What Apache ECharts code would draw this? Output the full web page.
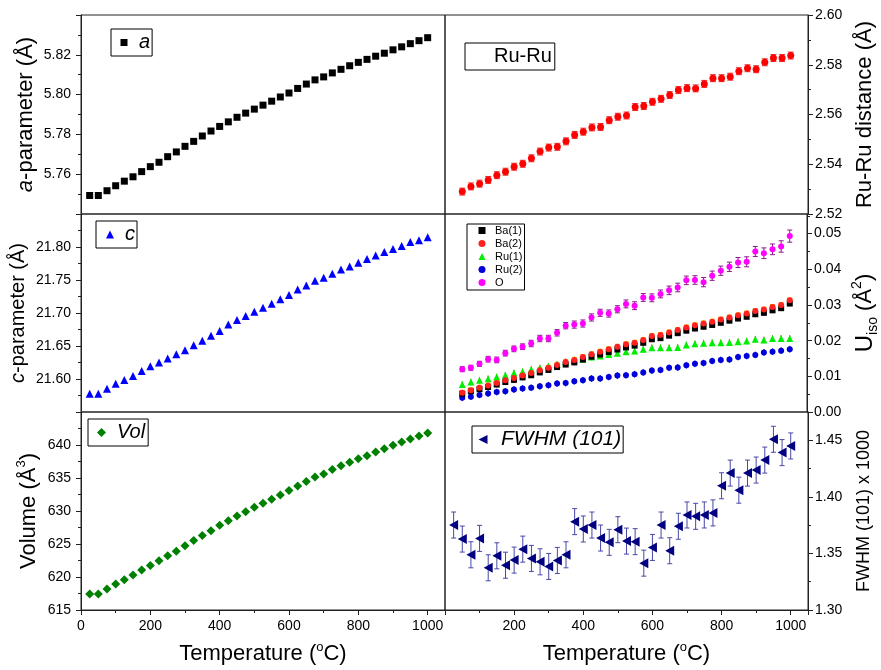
<!DOCTYPE html>
<html>
<head>
<meta charset="utf-8">
<script src="https://cdn.jsdelivr.net/npm/echarts@6/dist/echarts.min.js"></script>
<style>html,body{margin:0;padding:0;background:#fff}#chart{width:881px;height:670px}</style>
</head>
<body>
<div id="chart"></div>
<script>
// ---------- DATA ----------
const tempsLeft = [25,50,75,100,125,150,175,200,225,250,275,300,325,350,375,400,425,450,475,500,525,550,575,600,625,650,675,700,725,750,775,800,825,850,875,900,925,950,975,1000];
const tempsRight = [50,75,100,125,150,175,200,225,250,275,300,325,350,375,400,425,450,475,500,525,550,575,600,625,650,675,700,725,750,775,800,825,850,875,900,925,950,975,1000];

const aParam = [5.7493,5.7493,5.7517,5.7542,5.7565,5.7587,5.7613,5.7638,5.7660,5.7688,5.7712,5.7740,5.7765,5.7792,5.7817,5.7840,5.7863,5.7886,5.7907,5.7927,5.7947,5.7967,5.7988,5.8008,5.8031,5.8053,5.8074,5.8089,5.8109,5.8127,5.8145,5.8162,5.8177,5.8193,5.8208,5.8225,5.8240,5.8256,5.8271,5.8286];
const cParam = [21.5777,21.5777,21.5853,21.5929,21.5985,21.6046,21.6122,21.6193,21.6249,21.6310,21.6376,21.6437,21.6513,21.6579,21.6655,21.6726,21.6827,21.6893,21.6954,21.7020,21.7081,21.7142,21.7208,21.7274,21.7355,21.7416,21.7487,21.7533,21.7594,21.7660,21.7706,21.7761,21.7817,21.7873,21.7924,21.7970,21.8015,21.8076,21.8102,21.8147];
const volume = [617.42,617.42,618.18,618.93,619.59,620.29,621.05,621.75,622.46,623.22,623.92,624.73,625.53,626.29,627.00,627.85,628.51,629.26,629.87,630.57,631.18,631.78,632.44,633.09,633.80,634.46,635.16,635.61,636.27,636.87,637.38,637.93,638.39,638.94,639.45,639.95,640.45,640.91,641.36,641.81];

const ruRu = [2.5290,2.5311,2.5322,2.5337,2.5356,2.5370,2.5390,2.5402,2.5424,2.5451,2.5467,2.5470,2.5492,2.5518,2.5531,2.5548,2.5550,2.5577,2.5591,2.5596,2.5630,2.5634,2.5651,2.5663,2.5678,2.5698,2.5706,2.5705,2.5723,2.5746,2.5746,2.5752,2.5774,2.5786,2.5782,2.5810,2.5827,2.5827,2.5837];
const ruRuErr = [0.0014,0.0014,0.0014,0.0014,0.0014,0.0014,0.0014,0.0014,0.0014,0.0014,0.0014,0.0014,0.0014,0.0014,0.0014,0.0014,0.0014,0.0014,0.0014,0.0014,0.0014,0.0014,0.0014,0.0014,0.0014,0.0014,0.0014,0.0014,0.0014,0.0014,0.0014,0.0014,0.0014,0.0014,0.0014,0.0014,0.0014,0.0014,0.0014];

const uBa1 = [0.0051,0.0058,0.0064,0.0070,0.0077,0.0084,0.0090,0.0097,0.0103,0.0111,0.0118,0.0126,0.0133,0.0139,0.0147,0.0155,0.0161,0.0168,0.0175,0.0181,0.0186,0.0194,0.0204,0.0207,0.0214,0.0221,0.0228,0.0234,0.0239,0.0244,0.0250,0.0256,0.0262,0.0267,0.0274,0.0278,0.0285,0.0291,0.0304];
const uBa2 = [0.0054,0.0061,0.0068,0.0074,0.0081,0.0089,0.0095,0.0102,0.0109,0.0117,0.0124,0.0132,0.0140,0.0146,0.0154,0.0162,0.0169,0.0176,0.0183,0.0190,0.0194,0.0202,0.0213,0.0216,0.0223,0.0230,0.0237,0.0243,0.0248,0.0253,0.0259,0.0265,0.0271,0.0276,0.0283,0.0287,0.0294,0.0300,0.0313];
const uRu1 = [0.0077,0.0084,0.0089,0.0093,0.0098,0.0103,0.0109,0.0113,0.0119,0.0123,0.0128,0.0133,0.0141,0.0146,0.0148,0.0154,0.0157,0.0161,0.0165,0.0169,0.0171,0.0176,0.0180,0.0180,0.0180,0.0181,0.0188,0.0191,0.0193,0.0194,0.0194,0.0195,0.0197,0.0199,0.0204,0.0202,0.0206,0.0206,0.0206];
const uRu2 = [0.0040,0.0043,0.0048,0.0052,0.0056,0.0058,0.0063,0.0066,0.0068,0.0072,0.0075,0.0080,0.0081,0.0086,0.0089,0.0094,0.0094,0.0098,0.0102,0.0103,0.0106,0.0111,0.0116,0.0118,0.0124,0.0125,0.0131,0.0135,0.0137,0.0143,0.0146,0.0147,0.0154,0.0157,0.0160,0.0167,0.0169,0.0172,0.0176];
const uO = [0.0120,0.0124,0.0135,0.0148,0.0146,0.0165,0.0177,0.0183,0.0192,0.0206,0.0206,0.0222,0.0242,0.0245,0.0248,0.0265,0.0278,0.0276,0.0288,0.0303,0.0298,0.0321,0.0320,0.0331,0.0341,0.0349,0.0369,0.0370,0.0364,0.0382,0.0396,0.0407,0.0419,0.0421,0.0450,0.0445,0.0456,0.0464,0.0493];
const uBaErr = [0.0007,0.0007,0.0007,0.0007,0.0007,0.0007,0.0007,0.0007,0.0007,0.0007,0.0007,0.0007,0.0007,0.0007,0.0007,0.0007,0.0007,0.0007,0.0007,0.0007,0.0007,0.0007,0.0007,0.0007,0.0007,0.0007,0.0007,0.0007,0.0007,0.0007,0.0007,0.0007,0.0007,0.0007,0.0007,0.0007,0.0007,0.0007,0.0007];
const uRuErr = [0.0008,0.0008,0.0008,0.0008,0.0008,0.0008,0.0008,0.0008,0.0008,0.0008,0.0008,0.0008,0.0008,0.0008,0.0008,0.0008,0.0008,0.0008,0.0008,0.0008,0.0008,0.0008,0.0008,0.0008,0.0008,0.0008,0.0008,0.0008,0.0008,0.0008,0.0008,0.0008,0.0008,0.0008,0.0008,0.0008,0.0008,0.0008,0.0008];
const uOErr = [0.0007,0.0007,0.0007,0.0008,0.0008,0.0008,0.0008,0.0008,0.0009,0.0009,0.0009,0.0009,0.0009,0.0010,0.0010,0.0010,0.0010,0.0010,0.0010,0.0011,0.0011,0.0011,0.0011,0.0011,0.0012,0.0012,0.0012,0.0012,0.0013,0.0013,0.0013,0.0013,0.0014,0.0014,0.0014,0.0015,0.0015,0.0016,0.0017];

const fwhm = [1.3751,1.3627,1.3488,1.3633,1.3373,1.3479,1.3396,1.3441,1.3538,1.3456,1.3426,1.3385,1.3438,1.3488,1.3781,1.3716,1.3751,1.3636,1.3598,1.3710,1.3609,1.3604,1.3414,1.3553,1.3751,1.3524,1.3740,1.3840,1.3828,1.3840,1.3858,1.4098,1.4210,1.4059,1.4210,1.4237,1.4325,1.4509,1.4391,1.4450];
const fwhmErr = [0.0115,0.0115,0.0115,0.0115,0.0115,0.0115,0.0115,0.0115,0.0115,0.0115,0.0115,0.0115,0.0115,0.0115,0.0115,0.0115,0.0115,0.0115,0.0115,0.0115,0.0115,0.0115,0.0115,0.0115,0.0115,0.0115,0.0115,0.0115,0.0115,0.0115,0.0115,0.0115,0.0115,0.0115,0.0115,0.0115,0.0115,0.0115,0.0115,0.0115];

const xTicks = [0, 1050, 200];           // min, max, interval
const aTicks = [5.74, 5.84, 0.02];
const cTicks = [21.55, 21.85, 0.05];
const volTicks = [615, 645, 5];
const ruTicks = [2.52, 2.60, 0.02];
const uTicks = [0, 0.0555, 0.01];
const fwhmTicks = [1.30, 1.475, 0.05];

// ---------- CHART ----------
const FONT = 'Arial, "Liberation Sans", sans-serif';
const chart = echarts.init(document.getElementById('chart'), null, {renderer: 'canvas'});

const grids = [
  {left: 81, top: 15, width: 364, height: 199},
  {left: 81, top: 214, width: 364, height: 198},
  {left: 81, top: 412, width: 364, height: 198},
  {left: 445, top: 15, width: 363, height: 199},
  {left: 445, top: 214, width: 363, height: 198},
  {left: 445, top: 412, width: 363, height: 198}
].map(g => Object.assign({show: true, borderColor: '#222', borderWidth: 1, backgroundColor: 'transparent'}, g));

const tempName = 'Temperature ({p|o}C)';
const tempRich = {p: {fontSize: 13, lineHeight: 12, verticalAlign: 'top', fontFamily: FONT, color: '#000'}};

function xAxis(i) {
  const bottom = (i === 2 || i === 5);
  return {
    type: 'value', gridIndex: i, min: xTicks[0], max: xTicks[1], interval: xTicks[2],
    show: bottom,
    axisLine: {show: bottom, onZero: false, lineStyle: {color: '#222', width: 1}},
    axisTick: {show: bottom, inside: false, length: 5, lineStyle: {color: '#222'}},
    minorTick: {show: bottom, splitNumber: 2, length: 3, lineStyle: {color: '#222'}},
    axisLabel: {show: bottom, fontSize: 14, color: '#000', fontFamily: FONT, margin: 9,
      showMinLabel: i !== 5, showMaxLabel: false, formatter: v => String(v)},
    splitLine: {show: false},
    name: bottom ? tempName : '', nameLocation: 'middle', nameGap: 31,
    nameTextStyle: {fontSize: 22, color: '#000', fontFamily: FONT, lineHeight: 26, rich: tempRich}
  };
}

function yAxis(i, t, pos, name, nameGap, rich, fontSize, fmt, showMin, showMax) {
  return {
    type: 'value', gridIndex: i, position: pos, min: t[0], max: t[1], interval: t[2],
    axisLine: {show: true, onZero: false, lineStyle: {color: '#222', width: 1}},
    axisTick: {show: true, inside: false, length: 5, lineStyle: {color: '#222'}},
    minorTick: {show: true, splitNumber: 2, length: 3, lineStyle: {color: '#222'}},
    axisLabel: {fontSize: 14, color: '#000', fontFamily: FONT, margin: pos === 'left' ? 10 : 7,
      showMinLabel: showMin, showMaxLabel: showMax, formatter: fmt},
    splitLine: {show: false},
    name: name, nameLocation: 'middle', nameGap: nameGap, nameRotate: 90,
    nameTextStyle: {fontSize: fontSize, color: '#000', fontFamily: FONT, lineHeight: 28, rich: rich}
  };
}

const f2 = v => v.toFixed(2);
const f0 = v => v.toFixed(0);

const yAxes = [
  yAxis(0, aTicks, 'left', '{i|a}-parameter (Å)', 34,
    {i: {fontStyle: 'italic', fontSize: 22, fontFamily: FONT, color: '#000'}}, 22, f2, false, false),
  yAxis(1, cTicks, 'left', '{i|c}-parameter (Å)', 47,
    {i: {fontStyle: 'italic', fontSize: 20, fontFamily: FONT, color: '#000'}}, 20, f2, false, false),
  yAxis(2, volTicks, 'left', 'Volume (Å{p|3})', 38,
    {p: {fontSize: 13, lineHeight: 13, verticalAlign: 'top', fontFamily: FONT, color: '#000'}}, 22, f0, true, false),
  yAxis(3, ruTicks, 'right', 'Ru-Ru distance (Å)', 43, {}, 22, f2, true, true),
  yAxis(4, uTicks, 'right', '{u|U}{s|iso} (Å{p|2})', 43,
    {u: {fontSize: 24, lineHeight: 30, fontFamily: FONT, color: '#000'},
     s: {fontSize: 14, lineHeight: 14, verticalAlign: 'bottom', fontFamily: FONT, color: '#000'},
     p: {fontSize: 14, lineHeight: 14, verticalAlign: 'top', fontFamily: FONT, color: '#000'}}, 22, f2, true, false),
  yAxis(5, fwhmTicks, 'right', 'FWHM (101) x 1000', 42, {}, 18, f2, true, false)
];

function scatter(name, i, xs, ys, symbol, size, color, extra) {
  return Object.assign({
    type: 'scatter', name: name, xAxisIndex: i, yAxisIndex: i,
    data: xs.map((x, k) => [x, ys[k]]),
    symbol: symbol, symbolSize: size,
    itemStyle: {color: color, opacity: 1}, z: 5, silent: true, animation: false
  }, extra || {});
}

function errBars(i, xs, ys, errs, color, cap) {
  return {
    type: 'custom', xAxisIndex: i, yAxisIndex: i, silent: true, animation: false, z: 3,
    data: xs.map((x, k) => [x, ys[k] - errs[k], ys[k] + errs[k]]),
    encode: {x: 0, y: [1, 2]},
    renderItem: function (params, api) {
      const lo = api.coord([api.value(0), api.value(1)]);
      const hi = api.coord([api.value(0), api.value(2)]);
      const st = {stroke: color, lineWidth: 1};
      return {type: 'group', children: [
        {type: 'line', shape: {x1: lo[0], y1: lo[1], x2: hi[0], y2: hi[1]}, style: st},
        {type: 'line', shape: {x1: lo[0] - cap, y1: lo[1], x2: lo[0] + cap, y2: lo[1]}, style: st},
        {type: 'line', shape: {x1: hi[0] - cap, y1: hi[1], x2: hi[0] + cap, y2: hi[1]}, style: st}
      ]};
    }
  };
}

const leftTri = 'path://M0,5 L10,0 L10,10 Z';

const series = [
  scatter('a', 0, tempsLeft, aParam, 'rect', 7, '#000'),
  scatter('c', 1, tempsLeft, cParam, 'triangle', 8, '#0000ff'),
  scatter('Vol', 2, tempsLeft, volume, 'diamond', 9, '#008000'),
  errBars(3, tempsRight, ruRu, ruRuErr, '#e83030', 3),
  scatter('Ru-Ru', 3, tempsRight, ruRu, 'circle', 7, '#ff0000'),
  errBars(4, tempsRight, uO, uOErr, '#8a1a8a', 2.5),
  errBars(4, tempsRight, uRu2, uRuErr, '#2020c0', 0.5),
  errBars(4, tempsRight, uRu1, uRuErr, '#8a8a20', 0.5),
  errBars(4, tempsRight, uBa1, uBaErr, '#ff40ff', 0.5),
  errBars(4, tempsRight, uBa2, uBaErr, '#ffcc00', 2.5),
  scatter('Ru(2)', 4, tempsRight, uRu2, 'circle', 6, '#0000dd'),
  scatter('Ru(1)', 4, tempsRight, uRu1, 'triangle', 7, '#00ee00'),
  scatter('Ba(1)', 4, tempsRight, uBa1, 'rect', 6, '#000'),
  scatter('Ba(2)', 4, tempsRight, uBa2, 'circle', 6, '#ff2020'),
  scatter('O', 4, tempsRight, uO, 'circle', 6, '#ff00ff'),
  errBars(5, tempsLeft, fwhm, fwhmErr, '#4848a8', 2.5),
  scatter('FWHM (101)', 5, tempsLeft, fwhm, leftTri, [9, 10], '#000080')
];

function legendBox(o) {
  return Object.assign({
    show: true, orient: 'vertical', borderColor: '#000', borderWidth: 1, borderRadius: 0,
    backgroundColor: 'transparent', itemGap: 0, selectedMode: false
  }, o);
}
function lt(size, italic, padLeft, lh) {
  return {fontSize: size, fontStyle: italic ? 'italic' : 'normal', color: '#000', fontFamily: FONT,
    lineHeight: lh || 23, padding: [0, 0, 0, padLeft]};
}

const legends = [
  legendBox({left: 111, top: 29, data: ['a'], itemWidth: 7, itemHeight: 7, padding: [2, 2, 2, 9.5], textStyle: lt(20, true, 6.5)}),
  legendBox({left: 96, top: 221, data: ['c'], itemWidth: 8, itemHeight: 8, padding: [2, 2, 2, 10], textStyle: lt(20, true, 6)}),
  legendBox({left: 88, top: 419, data: ['Vol'], itemWidth: 9, itemHeight: 9, padding: [2, 3, 2, 9], textStyle: lt(20, true, 6)}),
  legendBox({left: 465, top: 43, data: [{name: 'Ru-Ru', itemStyle: {opacity: 0}}], itemWidth: 8, itemHeight: 8,
    padding: [2, 3, 2, 3], textStyle: lt(20, false, 13)}),
  legendBox({left: 472, top: 426, data: [{name: 'FWHM (101)', icon: leftTri}], itemWidth: 9, itemHeight: 10, padding: [2, 2, 2, 6.5],
    textStyle: lt(21, true, 8.5)}),
  legendBox({left: 467, top: 224, data: ['Ba(1)', 'Ba(2)', 'Ru(1)', 'Ru(2)', 'O'], itemWidth: 7, itemHeight: 7,
    padding: [0, 2, 1, 11.5], textStyle: lt(11, false, 4.5, 13)})
];

chart.setOption({
  animation: false,
  backgroundColor: '#fff',
  textStyle: {fontFamily: FONT},
  grid: grids,
  xAxis: [0, 1, 2, 3, 4, 5].map(xAxis),
  yAxis: yAxes,
  legend: legends,
  series: series
});
</script>
</body>
</html>
